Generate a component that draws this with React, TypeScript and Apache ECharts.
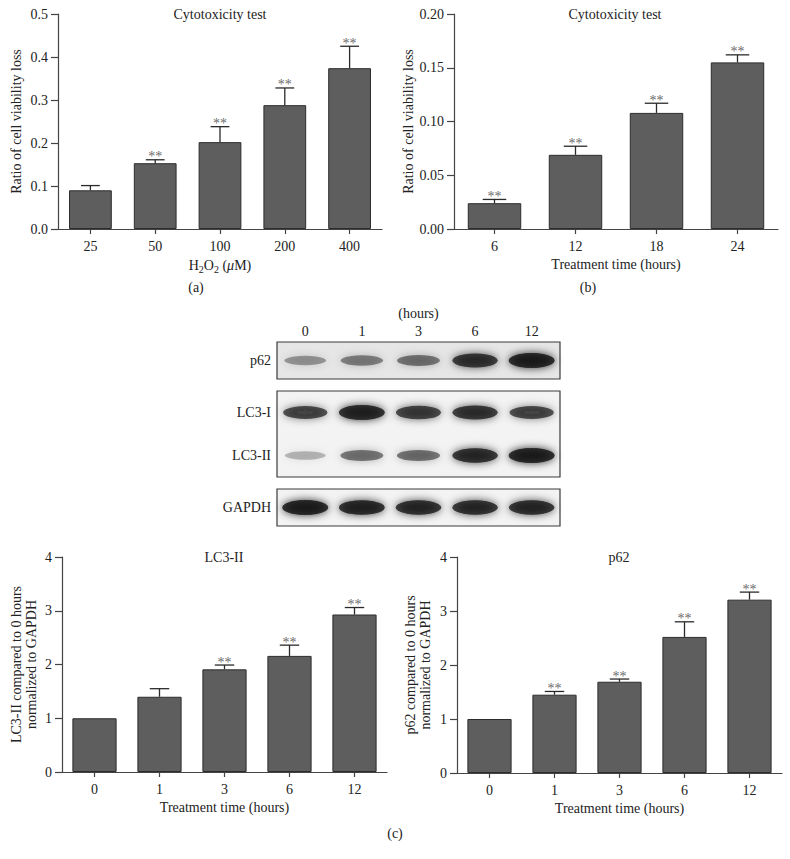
import React, { useEffect, useRef } from "react";
import * as echarts from "echarts";

// ---- Data ----
const aDoses = ["25", "50", "100", "200", "400"];
const aLoss = [0.09, 0.153, 0.202, 0.288, 0.374];
const aSem = [0.011, 0.008, 0.036, 0.04, 0.051];
const aSig = ["", "**", "**", "**", "**"];

const bHours = ["6", "12", "18", "24"];
const bLoss = [0.024, 0.069, 0.108, 0.155];
const bSem = [0.0035, 0.008, 0.009, 0.007];
const bSig = ["**", "**", "**", "**"];

const cHours = ["0", "1", "3", "6", "12"];
const lc3Ratio = [1.0, 1.4, 1.91, 2.16, 2.93];
const lc3Sem = [0, 0.15, 0.08, 0.2, 0.13];
const lc3Sig = ["", "", "**", "**", "**"];
const p62Ratio = [1.0, 1.45, 1.69, 2.52, 3.21];
const p62Sem = [0, 0.06, 0.05, 0.28, 0.14];
const p62Sig = ["", "**", "**", "**", "**"];

const blotLanes = ["0", "1", "3", "6", "12"];
const blotP62 = [0.3, 0.42, 0.48, 0.88, 1.0];
const blotLC3I = [0.72, 0.97, 0.82, 0.88, 0.72];
const blotLC3II = [0.18, 0.5, 0.52, 0.92, 1.0];
const blotGAPDH = [1.0, 0.96, 0.93, 0.92, 0.93];

const FONT = "'Liberation Serif', 'DejaVu Serif', serif";
const FS = 14;
const TXT = "#222";
const AX = "#444";

function barSeries(idx: number, vals: number[], sems: number[], sigs: string[], barW: string) {
  return [
    {
      type: "bar",
      xAxisIndex: idx,
      yAxisIndex: idx,
      data: vals,
      barWidth: barW,
      itemStyle: { color: "#5e5e5e", borderColor: "#2c2c2c", borderWidth: 1 },
      silent: true,
    },
    {
      type: "custom",
      xAxisIndex: idx,
      yAxisIndex: idx,
      z: 5,
      data: vals.map((v, i) => [i, v + sems[i]]),
      renderItem: (params: any, api: any) => {
        const i = params.dataIndex;
        const v = vals[i];
        const e = v + sems[i];
        const pb = api.coord([i, v]);
        const pt = api.coord([i, e]);
        const bw = api.size([1, 0])[0];
        const half = (bw * parseFloat(barW)) / 100 * 0.22;
        const children: any[] = [];
        const ls = { stroke: "#2a2a2a", lineWidth: 1.3 };
        if (sems[i] > 0) {
          children.push({ type: "line", shape: { x1: pb[0], y1: pb[1], x2: pt[0], y2: pt[1] }, style: ls });
          children.push({ type: "line", shape: { x1: pt[0] - half, y1: pt[1], x2: pt[0] + half, y2: pt[1] }, style: ls });
        }
        if (sigs[i]) {
          children.push({
            type: "text",
            x: pt[0],
            y: pt[1] - 3,
            style: { text: sigs[i], align: "center", verticalAlign: "middle", fill: "#6a6a6a", fontSize: 14, fontFamily: FONT },
          });
        }
        return { type: "group", children };
      },
    },
  ];
}

function catX(gridIndex: number, data: string[], name: any, rich?: any) {
  return {
    type: "category",
    gridIndex,
    data,
    boundaryGap: true,
    axisLine: { show: true, lineStyle: { color: AX, width: 1.2 } },
    axisTick: { show: true, alignWithLabel: true, length: 5, lineStyle: { color: AX, width: 1.2 } },
    axisLabel: { fontSize: FS, color: TXT, fontFamily: FONT, margin: 10 },
    splitLine: { show: false },
    name,
    nameLocation: "middle",
    nameGap: 28,
    nameTextStyle: { fontSize: FS, color: TXT, fontFamily: FONT, rich },
  };
}

function valY(gridIndex: number, max: number, interval: number, digits: number, name: string, nameGap: number) {
  return {
    type: "value",
    gridIndex,
    min: 0,
    max,
    interval,
    axisLine: { show: true, lineStyle: { color: AX, width: 1.2 } },
    axisTick: { show: true, length: 7, lineStyle: { color: AX, width: 1.2 } },
    axisLabel: { fontSize: FS, color: TXT, fontFamily: FONT, margin: 10, formatter: (v: number) => v.toFixed(digits) },
    splitLine: { show: false },
    name,
    nameLocation: "middle",
    nameGap,
    nameTextStyle: { fontSize: FS, color: TXT, fontFamily: FONT, lineHeight: 15 },
  };
}

function blotSeries(idx: number, rows: number[][]) {
  const data: any[] = [];
  rows.forEach((row, r) => {
    row.forEach((v, lane) => {
      data.push({
        value: [lane, r, v],
        symbolSize: [40 + 6 * v, 7 + 8 * v],
        itemStyle: {
          color: `rgba(10,10,10,${(0.15 + 0.85 * v).toFixed(2)})`,
          shadowBlur: 9,
          shadowColor: `rgba(10,10,10,${(0.2 + 0.8 * v).toFixed(2)})`,
        },
      });
    });
  });
  return {
    type: "scatter",
    xAxisIndex: idx,
    yAxisIndex: idx,
    symbol: "circle",
    data,
    silent: true,
  };
}

function blotX(gridIndex: number, show: boolean) {
  return {
    type: "category",
    gridIndex,
    data: blotLanes,
    boundaryGap: true,
    position: "top",
    show,
    axisLine: { show: false },
    axisTick: { show: false },
    axisLabel: { fontSize: FS, color: TXT, fontFamily: FONT, margin: 4 },
    name: show ? "(hours)" : "",
    nameLocation: "middle",
    nameGap: 22,
    nameTextStyle: { fontSize: FS, color: TXT, fontFamily: FONT },
  };
}

function blotY(gridIndex: number, rows: string[]) {
  return {
    type: "category",
    gridIndex,
    data: rows,
    inverse: true,
    axisLine: { show: false },
    axisTick: { show: false },
    axisLabel: { fontSize: FS, color: TXT, fontFamily: FONT, margin: 6 },
  };
}

function label(text: string, x: number, y: number) {
  return {
    type: "text",
    x,
    y,
    style: { text, align: "center", verticalAlign: "middle", fontSize: FS, fontFamily: FONT, fill: TXT },
  };
}

export default function App() {
  const ref = useRef<HTMLDivElement>(null);
  useEffect(() => {
    if (!ref.current) return;
    const chart = echarts.init(ref.current, null, { renderer: "svg" });
    const blotGrid = { show: true, borderColor: "#3a3a3a", borderWidth: 1.2 };
    const option: any = {
      animation: false,
      backgroundColor: "#ffffff",
      textStyle: { fontFamily: FONT, color: TXT },
      grid: [
        { left: 58, top: 14, width: 324, height: 215 },
        { left: 454, top: 14, width: 324, height: 215 },
        { left: 277, top: 342, width: 283, height: 37, ...blotGrid, backgroundColor: "#e6e6e6" },
        { left: 277, top: 391, width: 283, height: 86, ...blotGrid, backgroundColor: "#f3f3f3" },
        { left: 277, top: 489, width: 283, height: 37, ...blotGrid, backgroundColor: "#f3f3f3" },
        { left: 62, top: 557, width: 325, height: 215 },
        { left: 457, top: 557, width: 325, height: 216 },
      ],
      xAxis: [
        catX(0, aDoses, "H{s|2}O{s|2} ({i|μ}M)", {
          s: { fontSize: 10, fontFamily: FONT, color: TXT, padding: [7, 0, 0, 0] },
          i: { fontSize: FS, fontStyle: "italic", fontFamily: FONT, color: TXT },
        }),
        catX(1, bHours, "Treatment time (hours)"),
        blotX(2, true),
        blotX(3, false),
        blotX(4, false),
        catX(5, cHours, "Treatment time (hours)"),
        catX(6, cHours, "Treatment time (hours)"),
      ],
      yAxis: [
        valY(0, 0.5, 0.1, 1, "Ratio of cell viability loss", 34),
        valY(1, 0.2, 0.05, 2, "Ratio of cell viability loss", 36),
        blotY(2, ["p62"]),
        blotY(3, ["LC3-I", "LC3-II"]),
        blotY(4, ["GAPDH"]),
        valY(5, 4, 1, 0, "LC3-II compared to 0 hours\nnormalized to GAPDH", 23),
        valY(6, 4, 1, 0, "p62 compared to 0 hours\nnormalized to GAPDH", 24),
      ],
      series: [
        ...barSeries(0, aLoss, aSem, aSig, "66%"),
        ...barSeries(1, bLoss, bSem, bSig, "66%"),
        blotSeries(2, [blotP62]),
        blotSeries(3, [blotLC3I, blotLC3II]),
        blotSeries(4, [blotGAPDH]),
        ...barSeries(5, lc3Ratio, lc3Sem, lc3Sig, "68%"),
        ...barSeries(6, p62Ratio, p62Sem, p62Sig, "68%"),
      ],
      graphic: [
        label("Cytotoxicity test", 220, 14),
        label("Cytotoxicity test", 615, 14),
        label("(a)", 196, 287),
        label("(b)", 588, 287),
        label("LC3-II", 224, 557),
        label("p62", 619, 557),
        label("(c)", 395, 833),
      ],
    };
    chart.setOption(option);
    return () => chart.dispose();
  }, []);
  return <div ref={ref} style={{ position: "absolute", left: 0, top: 0, width: 790, height: 859 }} />;
}
